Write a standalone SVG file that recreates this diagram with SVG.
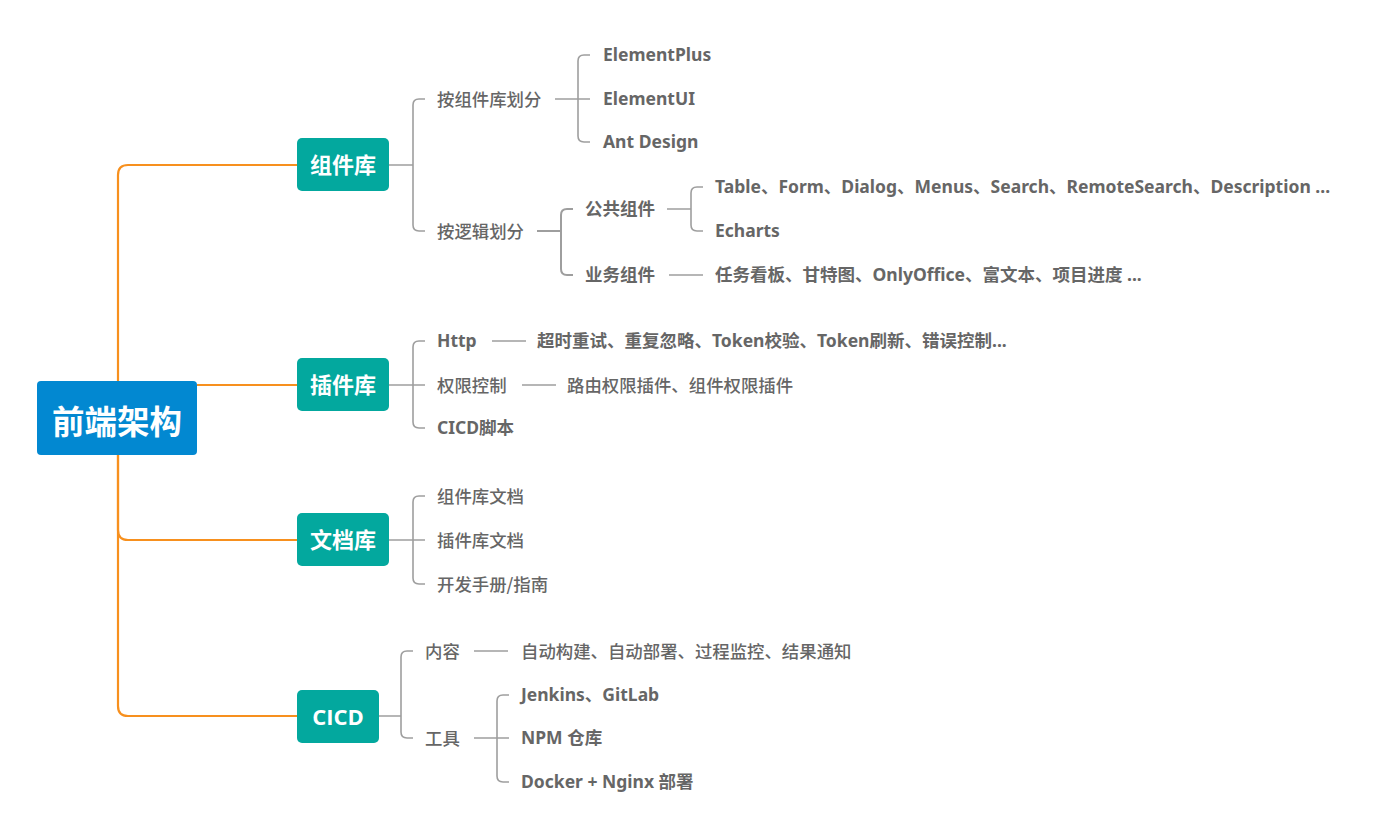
<svg xmlns="http://www.w3.org/2000/svg" width="1387" height="838" viewBox="0 0 1387 838">
<style>
.bg{fill:#ffffff}
.root{fill:#0288D1}
.l1{fill:#03A89E}
.rt{font-family:"Noto Sans CJK SC","Noto Sans",sans-serif;font-weight:bold;font-size:32.5px;fill:#fff;text-anchor:middle;dominant-baseline:central}
.t1{font-family:"Open Sans","Noto Sans CJK SC",sans-serif;font-weight:bold;font-size:22px;fill:#fff;text-anchor:middle;dominant-baseline:central}
.lb{font-family:"Noto Sans","Noto Sans CJK SC",sans-serif;font-weight:bold;font-size:17.5px;fill:#666;dominant-baseline:central}
.lc{font-family:"Noto Sans CJK SC",sans-serif;font-weight:500;font-size:17.4px;fill:#666;dominant-baseline:central}
.or{fill:none;stroke:#F7901E;stroke-width:2.2}
.gr{fill:none;stroke:#9E9E9E;stroke-width:1.6}
</style>
<rect class="bg" x="0" y="0" width="1387" height="838"/>
<g id="connectors">
  <path class="or" d="M118,381 V175 Q118,165 128,165 H297"/>
  <path class="or" d="M197,385 H297"/>
  <path class="or" d="M118,455 V530 Q118,540 128,540 H297"/>
  <path class="or" d="M118,455 V706 Q118,716 128,716 H297"/>
  <path class="gr" d="M389,165 H413 M425,99 H419 Q413,99 413,105 V225 Q413,231 419,231 H425"/>
  <path class="gr" d="M555,99 H578 M590,55 H584 Q578,55 578,61 V136 Q578,142 584,142 H590 M578,99 H590"/>
  <path class="gr" d="M537,231 H561 M573,209 H567 Q561,209 561,215 V269 Q561,275 567,275 H573" style="stroke-width:2"/>
  <path class="gr" d="M667,209 H691 M703,187 H697 Q691,187 691,193 V225 Q691,231 697,231 H703"/>
  <path class="gr" d="M669,275 H703"/>
  <path class="gr" d="M389,385 H425 M425,341 H419 Q413,341 413,347 V422 Q413,428 419,428 H425"/>
  <path class="gr" d="M492,341 H526"/>
  <path class="gr" d="M522,385 H556"/>
  <path class="gr" d="M389,540 H425 M425,496 H419 Q413,496 413,502 V578 Q413,584 419,584 H425"/>
  <path class="gr" d="M379,716 H401 M413,651 H407 Q401,651 401,657 V732 Q401,738 407,738 H413"/>
  <path class="gr" d="M474,651 H508"/>
  <path class="gr" d="M474,738 H509 M509,695 H503 Q497,695 497,701 V776 Q497,782 503,782 H509"/>
</g>
<g id="root">
  <rect class="root" x="37" y="381" width="160" height="74" rx="4"/>
  <text class="rt" x="117" y="419">前端架构</text>
</g>
<g id="n-zujianku">
  <rect class="l1" x="297" y="138" width="92" height="53" rx="5"/>
  <text class="t1" x="343" y="164">组件库</text>
</g>
<g id="n-chajianku">
  <rect class="l1" x="297" y="358" width="92" height="53" rx="5"/>
  <text class="t1" x="343" y="384">插件库</text>
</g>
<g id="n-wendangku">
  <rect class="l1" x="297" y="513" width="92" height="53" rx="5"/>
  <text class="t1" x="343" y="539">文档库</text>
</g>
<g id="n-cicd">
  <rect class="l1" x="297" y="690" width="82" height="53" rx="5"/>
  <text class="t1" x="338" y="716">CICD</text>
</g>
<g id="n-a1"><text class="lc" x="437" y="98">按组件库划分</text></g>
<g id="n-a2"><text class="lc" x="437" y="230">按逻辑划分</text></g>
<g id="n-ep"><text class="lb" x="603" y="54">ElementPlus</text></g>
<g id="n-eu"><text class="lb" x="603" y="98">ElementUI</text></g>
<g id="n-ad"><text class="lb" x="603" y="141">Ant Design</text></g>
<g id="n-gg"><text class="lb" x="585" y="208">公共组件</text></g>
<g id="n-yw"><text class="lb" x="585" y="274">业务组件</text></g>
<g id="n-tb"><text class="lb" x="715" y="186">Table、Form、Dialog、Menus、Search、RemoteSearch、Description ...</text></g>
<g id="n-ec"><text class="lb" x="715" y="230">Echarts</text></g>
<g id="n-yw2"><text class="lb" x="715" y="274">任务看板、甘特图、OnlyOffice、富文本、项目进度 ...</text></g>
<g id="n-http"><text class="lb" x="437" y="340">Http</text></g>
<g id="n-http2"><text class="lb" x="537" y="340">超时重试、重复忽略、Token校验、Token刷新、错误控制...</text></g>
<g id="n-qx"><text class="lc" x="437" y="384">权限控制</text></g>
<g id="n-qx2"><text class="lc" x="567" y="384">路由权限插件、组件权限插件</text></g>
<g id="n-cs"><text class="lb" x="437" y="427">CICD脚本</text></g>
<g id="n-d1"><text class="lc" x="437" y="495">组件库文档</text></g>
<g id="n-d2"><text class="lc" x="437" y="539">插件库文档</text></g>
<g id="n-d3"><text class="lc" x="437" y="583">开发手册/指南</text></g>
<g id="n-nr"><text class="lc" x="425" y="650">内容</text></g>
<g id="n-nr2"><text class="lc" x="521" y="650">自动构建、自动部署、过程监控、结果通知</text></g>
<g id="n-gj"><text class="lc" x="425" y="737">工具</text></g>
<g id="n-jk"><text class="lb" x="521" y="694">Jenkins、GitLab</text></g>
<g id="n-npm"><text class="lb" x="521" y="737">NPM 仓库</text></g>
<g id="n-dk"><text class="lb" x="521" y="781">Docker + Nginx 部署</text></g>
</svg>
